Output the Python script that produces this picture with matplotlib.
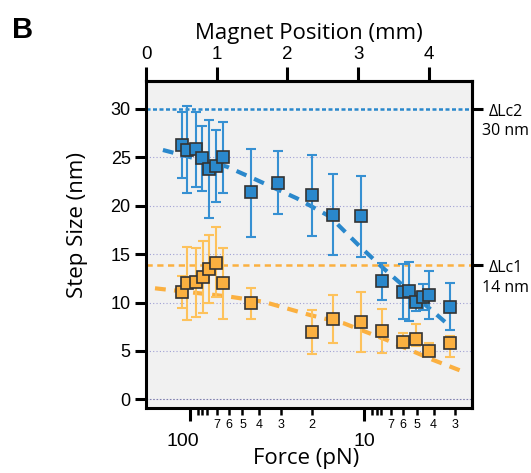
import numpy as np
import matplotlib
matplotlib.use("Agg")
import matplotlib.pyplot as plt
from matplotlib.ticker import FixedLocator, FixedFormatter, NullLocator
from matplotlib.transforms import blended_transform_factory, ScaledTranslation

# ---------------- data ----------------
force_blue = [111.6, 103.6, 92.7, 85.0, 77.5, 70.9, 64.4, 44.9, 31.1, 19.9,
              15.06, 10.5, 7.95, 6.02, 5.54, 5.05, 4.62, 4.24, 3.22]
step_blue = [26.3, 25.8, 25.9, 24.9, 23.8, 24.1, 25.0, 21.4, 22.4, 21.1,
             19.05, 18.9, 12.26, 11.1, 11.2, 10.1, 10.6, 10.8, 9.57]
blue_hi = [29.7, 30.3, 29.7, 28.2, 28.9, 27.8, 28.65, 25.9, 25.7, 25.25,
           23.25, 23.1, 14.1, 14.0, 14.2, 11.1, 11.9, 13.3, 12.0]
blue_lo = [22.9, 21.3, 21.9, 21.5, 18.7, 20.4, 21.3, 16.8, 19.1, 16.9,
           14.9, 14.7, 10.3, 8.3, 8.1, 9.1, 9.2, 8.3, 7.2]

force_orange = [111.6, 103.6, 92.7, 84.5, 77.5, 70.9, 64.4, 44.9, 19.9, 15.06,
                10.5, 7.95, 6.02, 5.05, 4.24, 3.22]
step_orange = [11.09, 11.99, 12.09, 12.67, 13.5, 14.1, 12.0, 9.92, 6.99, 8.27,
               8.02, 7.09, 5.95, 6.2, 4.99, 5.79]
orange_hi = [12.74, 15.77, 15.6, 16.36, 17.0, 17.8, 15.67, 11.47, 9.23, 10.78,
             11.12, 9.33, 6.8, 7.75, 5.79, 6.54]
orange_lo = [9.4, 8.19, 8.54, 8.95, 9.98, 10.6, 8.27, 8.27, 4.68, 5.79,
             4.86, 4.75, 5.4, 5.5, 4.47, 4.4]

fit_blue_force = [143.0, 61.5, 41.4, 24.4, 15.7, 13.8, 10.57, 7.95, 6.52, 4.02, 3.37]
fit_blue_step = [25.76, 24.04, 22.66, 20.77, 18.87, 17.84, 15.77, 13.7, 12.33, 9.05, 7.85]
fit_orange_force = [158.8, 59.0, 37.9, 20.5, 13.1, 7.44, 4.02, 2.70]
fit_orange_step = [11.47, 10.6, 10.08, 8.71, 7.85, 6.13, 4.06, 2.85]

dLc2 = 30.0
dLc1 = 13.85
lc_labels = [("\u0394Lc2", "30 nm"), ("\u0394Lc1", "14 nm")]

yticks = [0, 5, 10, 15, 20, 25, 30]
major_force = [100, 10]
major_force_labels = ["100", "10"]
minor_force = [70, 60, 50, 40, 30, 20, 7, 6, 5, 4, 3, 90, 85, 80, 9, 8.5, 8]
minor_force_labels = ["7", "6", "5", "4", "3", "2", "7", "6", "5", "4", "3",
                      "", "", "", "", "", ""]
magnet_ticks = [0, 1, 2, 3, 4]

LOG_F0 = 2.2048
SLOPE = 0.3955


def force_to_pos(f):
    f = np.asarray(f, dtype=float)
    return (LOG_F0 - np.log10(np.clip(f, 1e-9, None))) / SLOPE


def pos_to_force(p):
    p = np.asarray(p, dtype=float)
    return 10 ** (LOG_F0 - SLOPE * p)


# ---------------- style ----------------
BLUE = "#2a88cc"
BLUE_ERR = "#3690d2"
ORANGE = "#fbb040"
ORANGE_ERR = "#fdc25c"
EDGE = "#333333"
GRID = "#a0a0d4"
label_font = ["Open Sans", "DejaVu Sans"]
tick_font = ["Liberation Sans", "DejaVu Sans"]

fig = plt.figure(figsize=(5.31, 4.73), dpi=100)
W, H = 531, 473
ax = fig.add_axes([146 / W, (H - 408) / H, 326 / W, 327 / H])
ax.set_facecolor("#f1f1f1")

ax.set_xscale("log")
ax.set_xlim(178.8, 2.41)
ax.set_ylim(-0.9, 32.89)

# grid lines
for yv in yticks[1:-1]:
    ax.axhline(yv, color=GRID, lw=0.8, ls=(0, (1, 2)), zorder=1)
ax.axhline(0, color="#8080b0", lw=0.8, ls=(0, (1.5, 1.5)), zorder=1)

# reference lines
ax.axhline(dLc2, color=BLUE, lw=1.8, ls=(0, (1.6, 1.0)), zorder=2)
ax.axhline(dLc1, color=ORANGE, lw=1.8, ls=(0, (2.5, 1.8)), zorder=2)

# fit lines
ax.plot(fit_blue_force, fit_blue_step, color=BLUE, lw=3.0,
        ls=(0, (2.6, 2.0)), zorder=3)
ax.plot(fit_orange_force, fit_orange_step, color=ORANGE, lw=3.0,
        ls=(0, (2.6, 2.0)), zorder=3)

# error bars
fb = np.array(force_blue); sb = np.array(step_blue)
ax.errorbar(fb, sb, yerr=[sb - np.array(blue_lo), np.array(blue_hi) - sb],
            fmt="none", ecolor=BLUE_ERR, elinewidth=1.5, capsize=3.8,
            capthick=1.5, zorder=4)
fo = np.array(force_orange); so = np.array(step_orange)
ax.errorbar(fo, so, yerr=[so - np.array(orange_lo), np.array(orange_hi) - so],
            fmt="none", ecolor=ORANGE_ERR, elinewidth=1.5, capsize=3.8,
            capthick=1.5, zorder=4)

# markers
ax.plot(fb, sb, ls="none", marker="s", ms=9.3, mfc=BLUE, mec=EDGE, mew=1.2,
        zorder=5)
ax.plot(fo, so, ls="none", marker="s", ms=9.3, mfc=ORANGE, mec=EDGE, mew=1.2,
        zorder=5)

# spines
for s in ax.spines.values():
    s.set_linewidth(2.2)
    s.set_color("black")

# y axis
ax.set_yticks(yticks)
ax.set_yticklabels([str(v) for v in yticks], fontfamily=tick_font, fontsize=13)
ax.tick_params(axis="y", which="major", direction="out", length=8, width=2.2,
               pad=3, right=False)
ax.set_ylabel("Step Size (nm)", fontfamily=label_font, fontsize=16)
ax.yaxis.set_label_coords((77.5 - 146) / 326, (408 - 225) / 327)
ax.yaxis.label.set_va("center")

# bottom x axis
ax.xaxis.set_major_locator(FixedLocator(major_force))
ax.xaxis.set_major_formatter(FixedFormatter(major_force_labels))
ax.xaxis.set_minor_locator(FixedLocator(minor_force))
ax.xaxis.set_minor_formatter(FixedFormatter(minor_force_labels))
ax.tick_params(axis="x", which="major", direction="out", length=9, width=2.2,
               pad=9, labelsize=14, top=False)
ax.tick_params(axis="x", which="minor", direction="out", length=5, width=1.8,
               pad=3, labelsize=9, top=False)
fig.canvas.draw()
for lab in ax.get_xticklabels(which="both"):
    lab.set_fontfamily(tick_font)
for lab in ax.get_xticklabels(which="major"):
    if lab.get_text() == "100":
        lab.set_transform(lab.get_transform() +
                          ScaledTranslation(-7 / 100, 0, fig.dpi_scale_trans))
ax.set_xlabel("Force (pN)", fontfamily=label_font, fontsize=16)
ax.xaxis.set_label_coords((306 - 146) / 326, -(458 - 408) / 327)
ax.xaxis.label.set_va("center")

# top axis: magnet position
sec = ax.secondary_xaxis("top", functions=(force_to_pos, pos_to_force))
sec.xaxis.set_major_locator(FixedLocator(magnet_ticks))
sec.xaxis.set_major_formatter(FixedFormatter([str(v) for v in magnet_ticks]))
sec.xaxis.set_minor_locator(NullLocator())
sec.tick_params(axis="x", which="major", direction="out", length=10, width=2.2,
                pad=3, labelsize=13.5)
for lab in sec.xaxis.get_ticklabels():
    lab.set_fontfamily(tick_font)
sec.spines["top"].set_linewidth(2.2)
sec.set_xlabel("Magnet Position (mm)", fontfamily=label_font, fontsize=16,
               labelpad=5)

# right axis markers for contour length increments
ax2 = ax.secondary_yaxis("right")
ax2.set_yticks([dLc2, dLc1])
ax2.set_yticklabels(["", ""])
ax2.tick_params(axis="y", direction="out", length=8, width=2.2)
ax2.spines["right"].set_linewidth(2.2)
trans = blended_transform_factory(ax.transAxes, ax.transData)
xr = (506 - 146) / 326
for (name, val), yl in zip(lc_labels, [dLc2, dLc1]):
    ax.text(xr, yl - 0.3, name, transform=trans, ha="center", va="center",
            fontfamily=label_font, fontsize=11.5, clip_on=False)
    ax.text(xr, yl - 2.3, val, transform=trans, ha="center", va="center",
            fontfamily=label_font, fontsize=11.5, clip_on=False)

fig.text(12 / W, 1 - 30 / H, "B", fontfamily=["Liberation Sans", "DejaVu Sans"],
         fontweight="bold", fontsize=21, ha="left", va="center")

fig.savefig("out.png", dpi=100)
